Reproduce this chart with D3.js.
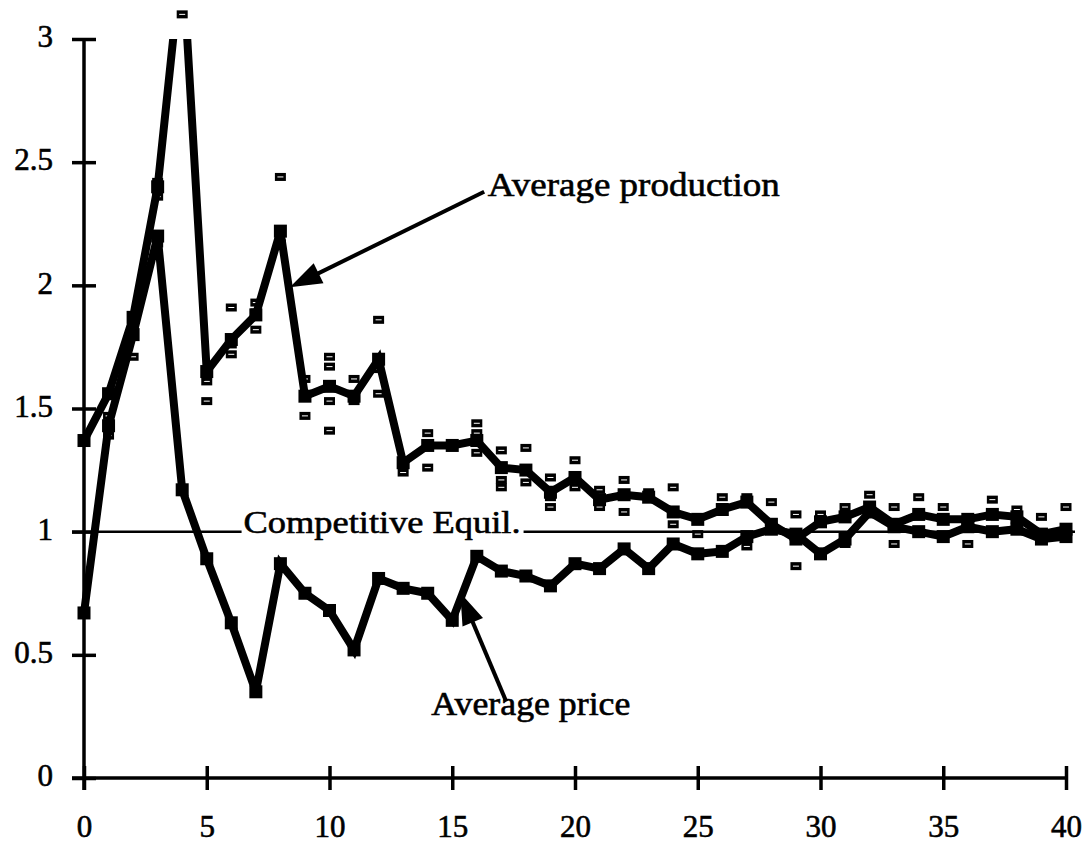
<!DOCTYPE html>
<html>
<head>
<meta charset="utf-8">
<script src="https://cdn.jsdelivr.net/npm/d3@7"></script>
<style>
  html, body { margin: 0; padding: 0; background: #fff; }
  svg { display: block; }
  text { font-family: "Liberation Serif", "DejaVu Serif", serif; fill: #000; stroke: #000; stroke-width: 0.6px; }
</style>
</head>
<body>
<svg id="chart" width="1087" height="843"></svg>
<script>
// Periods of the experiment
const periods = d3.range(0, 41);

// Average production per period
const avgProduction = [
  1.37, 1.56, 1.87, 2.40, 3.35, 1.65, 1.78, 1.88, 2.22, 1.55,
  1.59, 1.55, 1.70, 1.28, 1.35, 1.35, 1.37, 1.26, 1.25, 1.16,
  1.22, 1.13, 1.15, 1.14, 1.08, 1.05, 1.09, 1.12, 1.03, 0.97,
  1.04, 1.06, 1.10, 1.03, 1.07, 1.05, 1.05, 1.07, 1.06, 0.99,
  1.01
];

// Average price per period
const avgPrice = [
  0.67, 1.43, 1.80, 2.20, 1.17, 0.89, 0.63, 0.35, 0.87, 0.75,
  0.68, 0.52, 0.81, 0.77, 0.75, 0.64, 0.90, 0.84, 0.82, 0.78,
  0.87, 0.85, 0.93, 0.85, 0.95, 0.91, 0.92, 0.98, 1.01, 0.99,
  0.91, 0.97, 1.08, 1.02, 1.00, 0.98, 1.02, 1.00, 1.01, 0.97,
  0.98
];

// Individual market observations scattered around the averages
const obsPeriod = [
  1, 1, 2, 2, 2, 3, 3, 3, 4, 5, 5, 6, 6, 6, 7, 7, 7, 8, 8, 9, 9,
  10, 10, 10, 10, 11, 11, 12, 12, 12, 13, 14, 14, 16, 16, 16,
  17, 17, 17, 18, 18, 19, 19, 19, 20, 20, 21, 21, 22, 22, 23,
  24, 24, 25, 26, 27, 27, 28, 29, 29, 30, 31, 31, 32, 33, 33,
  34, 35, 36, 37, 38, 39, 40
];
const obsValue = [
  1.47, 1.39, 1.87, 1.81, 1.71, 2.42, 2.36, 2.17, 3.10, 1.61, 1.53, 1.91, 1.76, 1.72, 1.93, 1.89, 1.82, 2.44, 2.17, 1.62, 1.47,
  1.71, 1.67, 1.53, 1.41, 1.62, 1.53, 1.86, 1.66, 1.56, 1.24, 1.40, 1.26, 1.44, 1.40, 1.32,
  1.33, 1.21, 1.18, 1.34, 1.20, 1.22, 1.14, 1.10, 1.29, 1.18, 1.17, 1.10, 1.21, 1.08, 1.16,
  1.18, 1.03, 0.99, 1.14, 1.14, 0.94, 1.12, 1.07, 0.86, 1.07, 1.10, 0.95, 1.15, 1.10, 0.95,
  1.14, 1.10, 0.95, 1.13, 1.09, 1.06, 1.10
];

// Axis ticks
const xTicks = [0, 5, 10, 15, 20, 25, 30, 35, 40];
const yTicks = [0, 0.5, 1, 1.5, 2, 2.5, 3];
const yTickLabels = ["0", "0.5", "1", "1.5", "2", "2.5", "3"];
const equilibrium = 1;

const svg = d3.select("#chart");
const x = d3.scaleLinear().domain([0, 40]).range([84, 1066]);
const y = d3.scaleLinear().domain([0, 3]).range([778, 39]);

// Clip the average lines to the plotting region
svg.append("defs").append("clipPath").attr("id", "plotClip")
  .append("rect")
  .attr("x", x(0) - 20).attr("y", y(3))
  .attr("width", x(40) - x(0) + 40).attr("height", y(0) - y(3) + 20);

// Competitive equilibrium reference line, broken around its label
const eqLabel = svg.append("text")
  .attr("x", x(6.5)).attr("y", y(equilibrium) + 1)
  .attr("font-size", 32)
  .attr("textLength", 277).attr("lengthAdjust", "spacingAndGlyphs")
  .text("Competitive Equil.");
const eqBox = eqLabel.node().getBBox();
svg.append("line")
  .attr("x1", x(0) - 12).attr("x2", eqBox.x - 2)
  .attr("y1", y(equilibrium)).attr("y2", y(equilibrium))
  .attr("stroke", "#000").attr("stroke-width", 2.5);
svg.append("line")
  .attr("x1", eqBox.x + eqBox.width + 3).attr("x2", x(40) + 9)
  .attr("y1", y(equilibrium)).attr("y2", y(equilibrium))
  .attr("stroke", "#000").attr("stroke-width", 2.5);

// Axes with ticks crossing the axis line
const xAxis = d3.axisBottom(x).tickValues(xTicks).tickSize(12).tickPadding(0).tickFormat(d3.format("d"));
const yAxis = d3.axisLeft(y).tickValues(yTicks).tickSize(12).tickPadding(0)
  .tickFormat((d, i) => yTickLabels[i]);

const gx = svg.append("g").attr("transform", `translate(0,${y(0)})`).call(xAxis);
gx.select(".domain").attr("d", `M${x(0) - 12},0H${x(40)}`).attr("stroke", "#000").attr("stroke-width", 3.5);
gx.selectAll(".tick line").attr("y1", -12).attr("y2", 12).attr("stroke", "#000").attr("stroke-width", 3.5);
gx.selectAll(".tick text").attr("y", 59).attr("dy", 0)
  .attr("font-size", 31).attr("fill", "#000");

const gy = svg.append("g").attr("transform", `translate(${x(0)},0)`).call(yAxis);
gy.select(".domain").attr("d", `M0,${y(3)}V${y(0) + 12}`).attr("stroke", "#000").attr("stroke-width", 3.5);
gy.selectAll(".tick line").attr("x1", -12).attr("x2", 12).attr("stroke", "#000").attr("stroke-width", 3.5);
gy.selectAll(".tick text").attr("x", -31).attr("dy", "0.25em")
  .attr("font-size", 31).attr("fill", "#000");

// Scattered individual observations
const obs = obsPeriod.map((p, i) => ({ p, v: obsValue[i] }));
const obsG = svg.append("g");
obsG.selectAll("rect").data(obs).enter().append("rect")
  .attr("x", d => x(d.p) - 5.5).attr("y", d => y(d.v) - 4)
  .attr("width", 11).attr("height", 8).attr("fill", "#000");
obsG.selectAll("line").data(obs).enter().append("line")
  .attr("x1", d => x(d.p) - 3).attr("x2", d => x(d.p) + 3)
  .attr("y1", d => y(d.v)).attr("y2", d => y(d.v))
  .attr("stroke", "#fff").attr("stroke-width", 1);

// Average series: thick lines with square markers
const line = d3.line().x((d, i) => x(periods[i])).y(d => y(d));
const seriesG = svg.append("g").attr("clip-path", "url(#plotClip)");
[avgProduction, avgPrice].forEach(values => {
  seriesG.append("path").datum(values)
    .attr("d", line)
    .attr("fill", "none").attr("stroke", "#000")
    .attr("stroke-width", 8).attr("stroke-linejoin", "miter").attr("stroke-miterlimit", 3);
  seriesG.selectAll(null).data(values).enter().append("rect")
    .attr("x", (d, i) => x(periods[i]) - 6.5).attr("y", d => y(d) - 6.5)
    .attr("width", 13).attr("height", 13).attr("fill", "#000");
});

// Annotation arrows
function arrow(from, to) {
  const x1 = x(from[0]), y1 = y(from[1]), x2 = x(to[0]), y2 = y(to[1]);
  const ang = Math.atan2(y2 - y1, x2 - x1);
  const len = 26, half = 9;
  const bx = x2 - len * Math.cos(ang), by = y2 - len * Math.sin(ang);
  svg.append("line")
    .attr("x1", x1).attr("y1", y1).attr("x2", bx).attr("y2", by)
    .attr("stroke", "#000").attr("stroke-width", 4);
  const px = -Math.sin(ang) * half, py = Math.cos(ang) * half;
  svg.append("path")
    .attr("d", `M${x2},${y2}L${bx + px},${by + py}L${bx - px},${by - py}Z`)
    .attr("fill", "#000").attr("stroke", "#000").attr("stroke-width", 3)
    .attr("stroke-linejoin", "miter");
}

svg.append("text")
  .attr("x", x(16.45)).attr("y", y(2.361))
  .attr("font-size", 34)
  .attr("textLength", 292).attr("lengthAdjust", "spacingAndGlyphs")
  .text("Average production");
arrow([16.3, 2.38], [8.55, 2.0]);

svg.append("text")
  .attr("x", x(14.15)).attr("y", y(0.256))
  .attr("font-size", 33)
  .attr("textLength", 199).attr("lengthAdjust", "spacingAndGlyphs")
  .text("Average price");
arrow([17.2, 0.31], [15.4, 0.735]);
</script>
</body>
</html>
